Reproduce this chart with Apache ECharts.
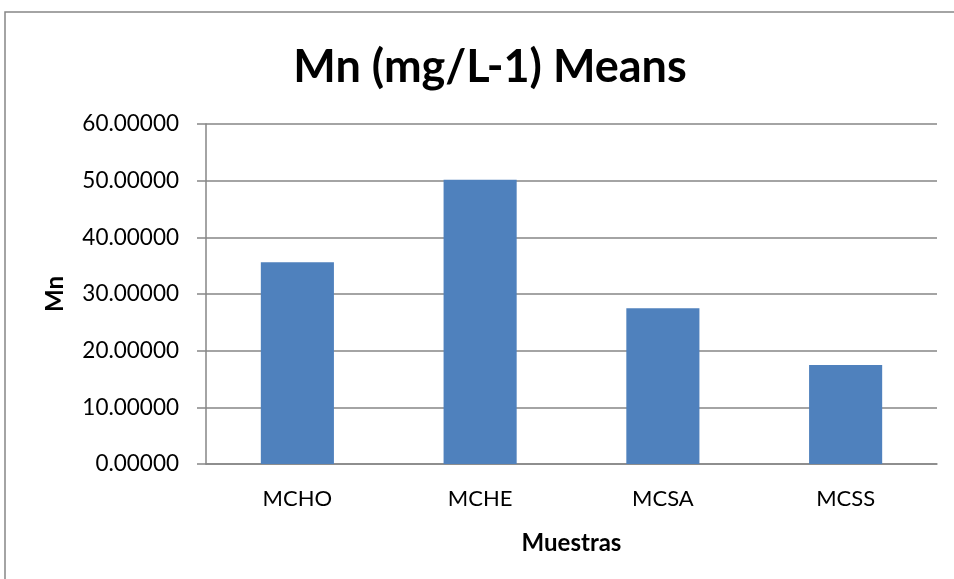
<!DOCTYPE html>
<html>
<head>
<meta charset="utf-8">
<script src="https://cdn.jsdelivr.net/npm/echarts@6/dist/echarts.min.js"></script>
<style>
  html, body { margin: 0; padding: 0; background: #fff; }
  #chart { width: 954px; height: 579px; }
</style>
</head>
<body>
<div id="chart"></div>
<script>
// Mean manganese concentration per sample group
const categories = ['MCHO', 'MCHE', 'MCSA', 'MCSS'];
const meanMn = [35.6, 50.15, 27.5, 17.45];
const yTicks = { min: 0, max: 60, interval: 10 };

const FONT = 'Lato, "Open Sans", sans-serif';
const GRAY = '#868686';

const chart = echarts.init(document.getElementById('chart'), null, { renderer: 'canvas' });
chart.setOption({
  animation: false,
  backgroundColor: '#ffffff',
  title: {
    text: 'Mn (mg/L-1) Means',
    left: 485,
    textAlign: 'center',
    top: 40,
    textStyle: { fontFamily: FONT, fontWeight: 'bold', fontSize: 45, color: '#000' }
  },
  graphic: [{
    type: 'rect',
    shape: { x: 5, y: 12, width: 980, height: 620 },
    style: { fill: 'none', stroke: GRAY, lineWidth: 1.5 },
    silent: true
  }],
  grid: { left: 206, right: 17, top: 124, bottom: 115 },
  xAxis: {
    type: 'category',
    data: categories,
    name: 'Muestras',
    nameLocation: 'middle',
    nameGap: 67,
    nameTextStyle: { fontFamily: FONT, fontWeight: 'bold', fontSize: 24, color: '#000' },
    axisLine: { lineStyle: { color: GRAY, width: 1.5 } },
    axisTick: { show: false },
    axisLabel: { fontFamily: FONT, fontSize: 22, color: '#000', margin: 24 }
  },
  yAxis: {
    type: 'value',
    min: yTicks.min,
    max: yTicks.max,
    interval: yTicks.interval,
    name: 'Mn',
    nameLocation: 'middle',
    nameGap: 139,
    nameTextStyle: { fontFamily: FONT, fontWeight: 'bold', fontSize: 24, color: '#000' },
    axisLine: { show: true, lineStyle: { color: GRAY, width: 1.5 } },
    axisTick: { show: true, inside: false, length: 9, lineStyle: { color: GRAY, width: 1.5 } },
    splitLine: { lineStyle: { color: GRAY, width: 1.5 } },
    axisLabel: {
      fontFamily: FONT, fontSize: 22.5, color: '#000', margin: 27,
      formatter: v => v.toFixed(5)
    }
  },
  series: [{
    type: 'bar',
    data: meanMn,
    barWidth: '40%',
    itemStyle: { color: '#4F81BD' }
  }]
});
</script>
</body>
</html>
